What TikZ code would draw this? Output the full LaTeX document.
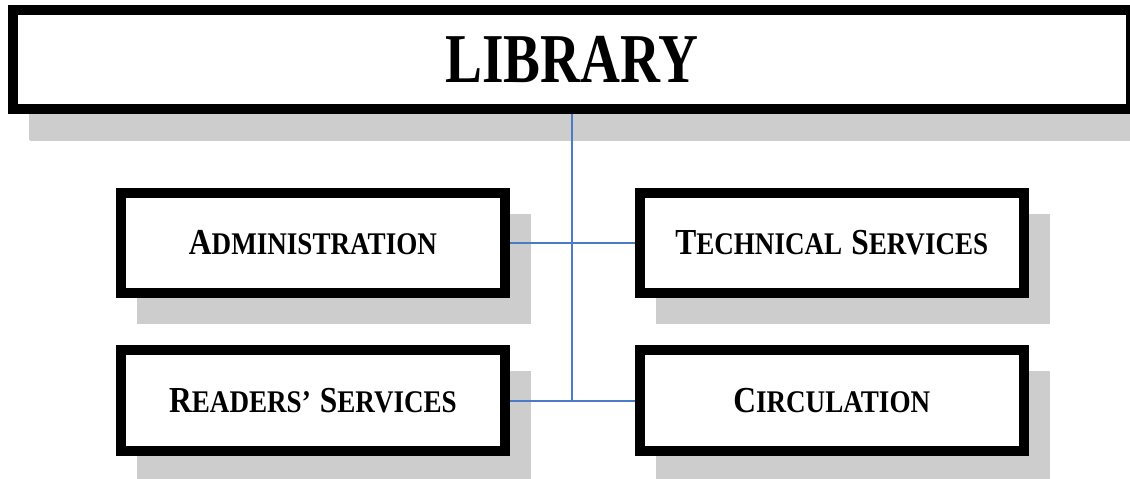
\documentclass[tikz,border=0pt]{standalone}
\usepackage{fontspec}
\setmainfont{Liberation Serif}
\newfontfamily\titlefont[FakeStretch=0.79]{Liberation Serif}
\newfontfamily\capfont[FakeStretch=0.86]{Liberation Serif}
\usetikzlibrary{shadows}
\definecolor{shadowc}{HTML}{CDCDCD}
\definecolor{linkc}{HTML}{4A7AC8}
\newcommand\scbig[1]{{\fontsize{36.6}{40}\selectfont #1}}
\newcommand\scsmall[1]{{\fontsize{31.5}{36}\selectfont #1}}
\newcommand\wsp{\hspace{9pt}}
\tikzset{
  orgbox/.style={draw=black, fill=white, line width=10pt,
    minimum width=384.5pt, minimum height=100.5pt, inner sep=0pt,
    font=\capfont\bfseries,
    drop shadow={shadow xshift=21pt, shadow yshift=-26pt, fill=shadowc, draw=shadowc, opacity=1}},
  titlebox/.style={orgbox, minimum width=1118.5pt, minimum height=99pt,
    font=\titlefont\bfseries\fontsize{70}{80}\selectfont,
    drop shadow={shadow xshift=22pt, shadow yshift=-27pt, fill=shadowc, draw=shadowc, opacity=1}},
  link/.style={draw=linkc, line width=2pt}
}
\begin{document}
\begin{tikzpicture}[x=1pt,y=-1pt]
\useasboundingbox (0,0) rectangle (1130,479);
\clip (0,0) rectangle (1130,479);
\node[titlebox] (lib) at (571.75,59) {LIBRARY};
\node[orgbox] (adm) at (313,242.75) {\scbig{A}\scsmall{DMINISTRATION}};
\node[orgbox] (tech) at (831.75,242.75) {\scbig{T}\scsmall{ECHNICAL}\wsp\scbig{S}\scsmall{ERVICES}};
\node[orgbox] (rs) at (313,400.5) {\scbig{R}\scsmall{EADERS’}\wsp\scbig{S}\scsmall{ERVICES}};
\node[orgbox] (circ) at (831.75,400.5) {\scbig{C}\scsmall{IRCULATION}};
\coordinate (jn) at (lib.south |- rs.east);
\draw[link] (lib.south) -- (jn);
\draw[link] (adm.east) -- (tech.west);
\draw[link] (rs.east) -- (circ.west);
\end{tikzpicture}
\end{document}
